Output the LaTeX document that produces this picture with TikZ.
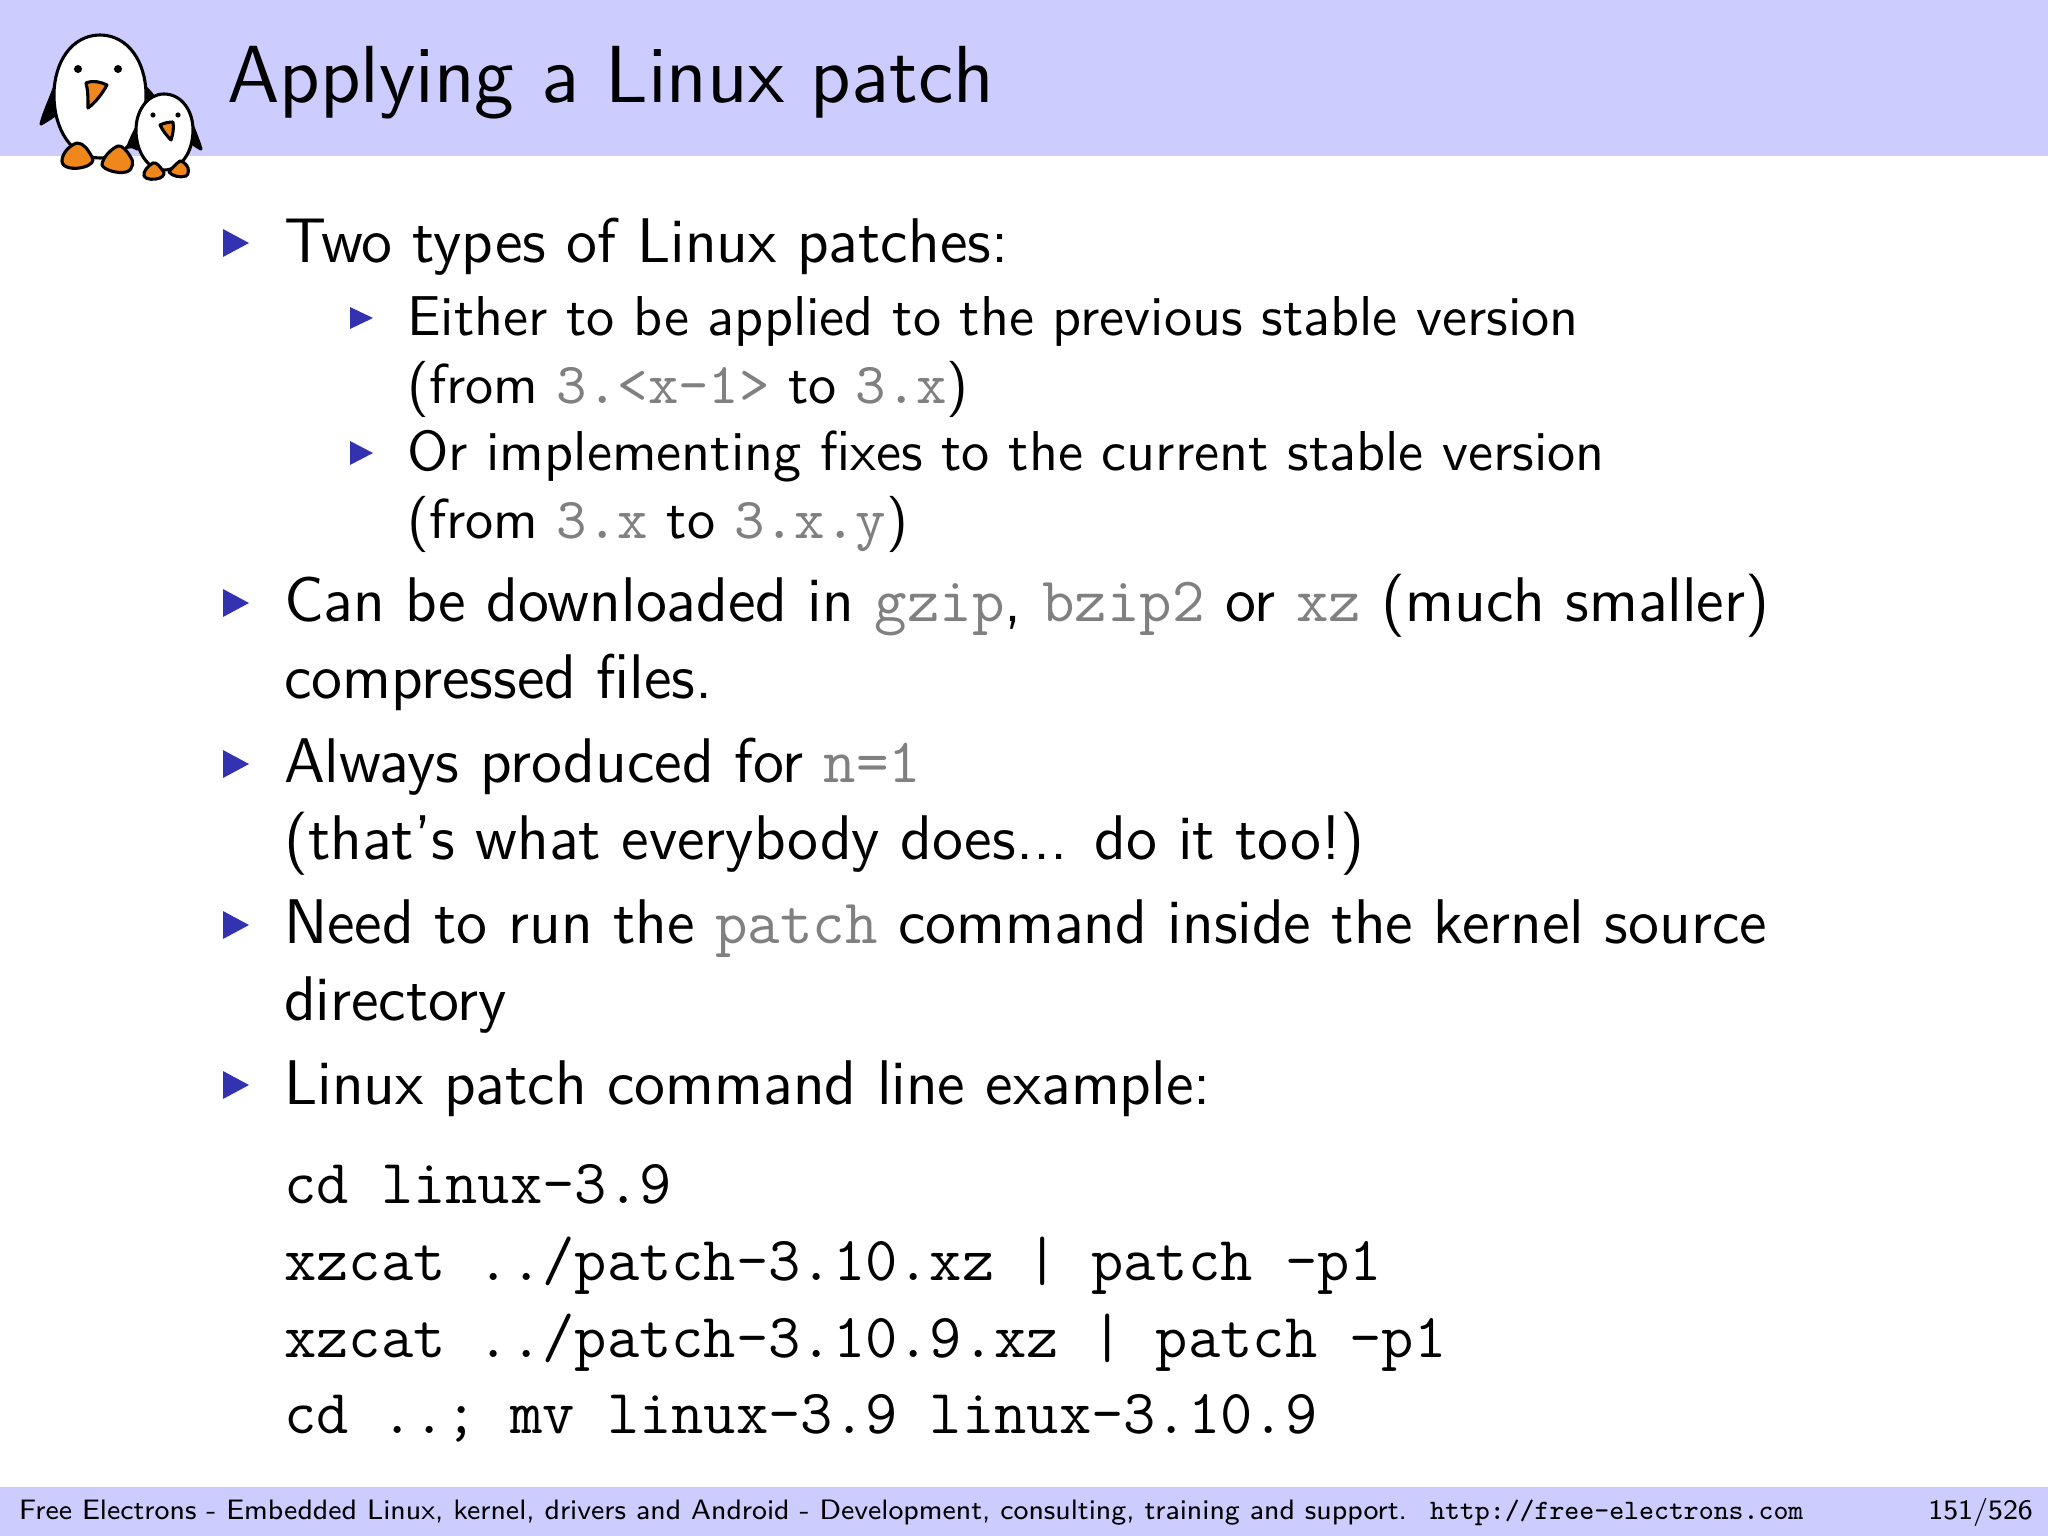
\documentclass[tikz,border=0pt]{standalone}
\usepackage{amsmath,amssymb}
\usepackage{tikz}
\definecolor{barblue}{rgb}{0.8,0.8,1}
\definecolor{itemblue}{rgb}{0.2,0.2,0.7}
\definecolor{beakorange}{rgb}{0.94,0.53,0.11}
\definecolor{cmdgray}{gray}{0.5}
\newcommand{\cmd}[1]{\textcolor{cmdgray}{\ttfamily #1}}
\newcommand{\subcmd}[1]{\textcolor{cmdgray}{\ttfamily\fontsize{10.3}{12}\selectfont #1}}
\tikzset{
    bar/.style={fill=barblue,draw=none},
    titletext/.style={anchor=base west,inner sep=0pt,font=\sffamily\fontsize{14.4}{16}\selectfont},
    itemtext/.style={anchor=base west,inner sep=0pt,font=\sffamily\fontsize{11.22}{13}\selectfont},
    subtext/.style={anchor=base west,inner sep=0pt,font=\sffamily\fontsize{10}{12}\selectfont},
    codetext/.style={anchor=base west,inner sep=0pt,font=\ttfamily\fontsize{11.15}{13}\selectfont},
    foottext/.style={anchor=base west,inner sep=0pt,font=\sffamily\fontsize{5}{6}\selectfont},
    bullet/.style={fill=itemblue,draw=none},
    outline/.style={draw=black,line width=0.55pt,line join=round},
    feather/.style={outline,fill=white},
    foot/.style={outline,fill=beakorange},
}
\begin{document}
\begin{tikzpicture}[x=0.17783pt,y=0.17783pt,yscale=-1,xscale=1]
\useasboundingbox (0,0) rectangle (2048,1536);

%Shape: Rectangle [id:title bar]
\draw [bar] (0,0) rectangle (2048,156);
%Shape: Rectangle [id:foot bar]
\draw [bar] (0,1487) rectangle (2048,1536);

%Shape: Big penguin wings
\draw [outline,fill=black] (55,86) .. controls (50,100) and (44,112) .. (41,124) .. controls (48,120) and (54,116) .. (59,112) -- cycle;
\draw [outline,fill=black] (144,86) .. controls (148,90) and (151,93) .. (153,96) -- (136,146) -- (130,120) -- cycle;
%Shape: Big penguin body
\draw [feather] (100,35) .. controls (72,35) and (54,62) .. (54,95) .. controls (54,130) and (72,158) .. (100,158) .. controls (128,158) and (146,130) .. (146,95) .. controls (146,62) and (128,35) .. (100,35) -- cycle;
\fill (78,69) circle (4);
\fill (118,69) circle (4);
\draw [foot] (86,83) .. controls (93,80) and (101,82) .. (107,85) .. controls (102,94) and (96,102) .. (88,108) .. controls (88,98) and (88,90) .. (86,83) -- cycle;
\draw [foot] (77,143) .. controls (70,145) and (62,153) .. (62,161) .. controls (62,168) and (74,170) .. (84,167) .. controls (91,165) and (95,161) .. (92,157) .. controls (88,150) and (84,143) .. (77,143) -- cycle;
\draw [foot] (118,146) .. controls (112,148) and (102,158) .. (102,165) .. controls (104,170) and (118,174) .. (126,172) .. controls (134,170) and (134,160) .. (130,156) .. controls (127,151) and (122,145) .. (118,146) -- cycle;

%Shape: Small penguin wings
\draw [outline,fill=black] (193,127) .. controls (196,135) and (199,142) .. (201,149) .. controls (197,147) and (193,144) .. (189,141) -- cycle;
\draw [outline,fill=black] (137,127) .. controls (134,133) and (130,140) .. (128,147) .. controls (131,146) and (134,147) .. (137,149) -- cycle;
%Shape: Small penguin body
\draw [feather] (164,94) .. controls (148,94) and (136,110) .. (136,130) .. controls (136,152) and (148,170) .. (164,170) .. controls (181,170) and (193,152) .. (193,130) .. controls (193,110) and (181,94) .. (164,94) -- cycle;
\fill (153,115) circle (2.6);
\fill (178,115) circle (2.6);
\draw [foot] (160,125) .. controls (164,123) and (169,122) .. (173,122) .. controls (174,128) and (173,134) .. (171,140) .. controls (167,136) and (163,131) .. (160,125) -- cycle;
\draw [foot] (153,163) .. controls (148,166) and (143,171) .. (144,176) .. controls (146,180) and (155,180) .. (160,178) .. controls (164,176) and (165,173) .. (163,171) .. controls (160,167) and (157,162) .. (153,163) -- cycle;
\draw [foot] (180,161) .. controls (176,164) and (171,169) .. (169,172) .. controls (172,176) and (180,178) .. (186,176) .. controls (189,175) and (189,168) .. (187,166) .. controls (185,163) and (182,161) .. (180,161) -- cycle;

% Text Node
\draw (226,102) node (title) [titletext] {Applying a Linux patch};

%Shape: Item bullets
\fill [bullet] (223,229) -- (249,243) -- (223,257) -- cycle;
\fill [bullet] (350,307) -- (373,318) -- (350,329) -- cycle;
\fill [bullet] (350,441) -- (373,453) -- (350,465) -- cycle;
\fill [bullet] (223,589) -- (249,603) -- (223,617) -- cycle;
\fill [bullet] (223,750) -- (249,764) -- (223,778) -- cycle;
\fill [bullet] (223,911) -- (249,925) -- (223,939) -- cycle;
\fill [bullet] (223,1071) -- (249,1085) -- (223,1099) -- cycle;

% Text Node
\draw (283,262) node (types) [itemtext] {Two types of Linux patches:};
% Text Node
\draw (406,335) node (either) [subtext] {Either to be applied to the previous stable version};
% Text Node
\draw (406,403) node (eitherfrom) [subtext] {(from \subcmd{3.<x-1>} to \subcmd{3.x})};
% Text Node
\draw (406,470) node (fixes) [subtext] {Or implementing fixes to the current stable version};
% Text Node
\draw (406,538) node (fixesfrom) [subtext] {(from \subcmd{3.x} to \subcmd{3.x.y})};
% Text Node
\draw (283,621) node (download) [itemtext] {Can be downloaded in \cmd{gzip}, \cmd{bzip2} or \cmd{xz} (much smaller)};
% Text Node
\draw (283,698) node (compressed) [itemtext] {compressed files.};
% Text Node
\draw (283,782) node (always) [itemtext] {Always produced for \cmd{n=1}};
% Text Node
\draw (283,859) node (everybody) [itemtext] {(that's what everybody does... do it too!)};
% Text Node
\draw (283,943) node (need) [itemtext] {Need to run the \cmd{patch} command inside the kernel source};
% Text Node
\draw (283,1020) node (directory) [itemtext] {directory};
% Text Node
\draw (283,1104) node (example) [itemtext] {Linux patch command line example:};

% Text Node
\draw (283,1203) node (cdlinux) [codetext] {cd linux-3.9};
% Text Node
\draw (283,1280) node (xzfirst) [codetext] {xzcat ../patch-3.10.xz | patch -p1};
% Text Node
\draw (283,1357) node (xzsecond) [codetext] {xzcat ../patch-3.10.9.xz | patch -p1};
% Text Node
\draw (283,1433) node (mvlinux) [codetext] {cd ..; mv linux-3.9 linux-3.10.9};

% Text Node
\draw (18,1519) node (footer) [foottext] {Free Electrons - Embedded Linux, kernel, drivers and Android - Development, consulting, training and support.};
% Text Node
\draw (1429,1519) node (url) [foottext] {\ttfamily http://free-electrons.com};
% Text Node
\draw (2034,1519) node (pages) [foottext,anchor=base east] {151/526};

\end{tikzpicture}
\end{document}
